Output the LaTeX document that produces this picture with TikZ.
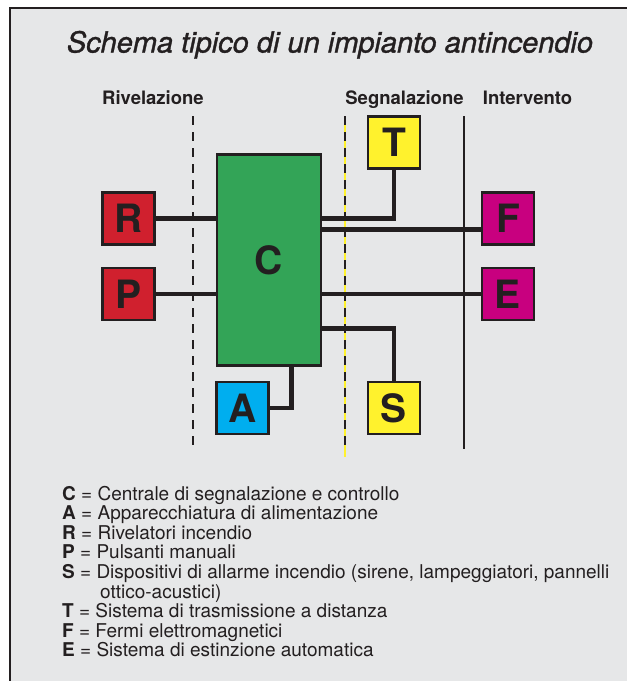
\documentclass[tikz,border=0pt]{standalone}
\usepackage{fontspec}
\setmainfont{TeX Gyre Heros}
\usepackage{tikz}

\definecolor{panel}{HTML}{E6E7E8}
\definecolor{ink}{HTML}{231F20}
\definecolor{rivred}{HTML}{D0202E}
\definecolor{cgreen}{HTML}{33A457}
\definecolor{ablue}{HTML}{00AEEF}
\definecolor{syellow}{HTML}{FFF22D}
\definecolor{imagenta}{HTML}{C8007F}

\begin{document}
\begin{tikzpicture}[x=1pt, y=-1pt,
  box/.style={draw=ink, line width=2.5pt, inner sep=0pt, minimum size=52pt,
    text=ink, font=\fontsize{39}{39}\selectfont\bfseries},
  wire/.style={draw=ink, line width=4.8pt},
  divider/.style={draw=ink, line width=2.5pt},
  heading/.style={anchor=base, text=ink, font=\fontsize{18.5}{20}\selectfont\bfseries},
  legend/.style={anchor=base west, inner sep=0pt, text=ink, font=\fontsize{19}{20}\selectfont}]
\useasboundingbox (0,0) rectangle (627,681);
\fill[white] (0,0) rectangle (627,681);
\fill[panel] (10,8) rectangle (627,681);
\draw[ink, line width=1.5pt] (627,8) -- (10,8) -- (10,681);

\node[anchor=base, text=ink, font=\fontsize{29}{30}\selectfont\itshape\addfontfeatures{FakeBold=1.2}] (title) at (330,52.5)
  {Schema tipico di un impianto antincendio};
\node[heading] (rivelazione) at (153,104.7) {Rivelazione};
\node[heading] (segnalazione) at (404.5,104.7) {Segnalazione};
\node[heading] (intervento) at (527.5,104.7) {Intervento};

\draw[divider, dash pattern=on 9pt off 7pt] (193,116) -- (193,447);
\draw[syellow, line width=1.8pt] (345,116) -- (345,457);
\draw[divider, dash pattern=on 9pt off 7pt] (345,116) -- (345,447);
\draw[divider] (464,116) -- (464,449);

\node[box, fill=cgreen, minimum width=104pt, minimum height=211pt] (C) at (269,260) {C};
\foreach \name/\col/\x/\y in {R/rivred/128.3/218.3, P/rivred/128.3/294,
  A/ablue/242.5/408, T/syellow/394/142.7, S/syellow/394/408,
  F/imagenta/508/218.3, E/imagenta/508/294}
  \node[box, fill=\col] (\name) at (\x,\y) {\name};

\draw[wire] (R.east) -- (R.east -| C.west);
\draw[wire] (P.east) -- (P.east -| C.west);
\draw[wire] (T.south) |- (C.east |- R.east);
\draw[wire] ([yshift=-11pt]F.west) -- ([yshift=-11pt]F.west -| C.east);
\draw[wire] (E.west) -- (E.west -| C.east);
\draw[wire] (S.north) |- ([yshift=-68.3pt]C.east);
\draw[wire] (A.east) -| ([xshift=22.7pt]C.south);

\foreach \key/\txt/\y in {C/{Centrale di segnalazione e controllo}/500,
  A/{Apparecchiatura di alimentazione}/519.6,
  R/{Rivelatori incendio}/539.2,
  P/{Pulsanti manuali}/558.8,
  S/{Dispositivi di allarme incendio (sirene, lampeggiatori, pannelli}/578.4,
  T/{Sistema di trasmissione a distanza}/617.6,
  F/{Fermi elettromagnetici}/637.2,
  E/{Sistema di estinzione automatica}/656.8}
  \node[legend] (leg-\key) at (62,\y) {\textbf{\key} = \txt};
\node[legend] (leg-S2) at (100,598) {ottico-acustici)};
\end{tikzpicture}
\end{document}
